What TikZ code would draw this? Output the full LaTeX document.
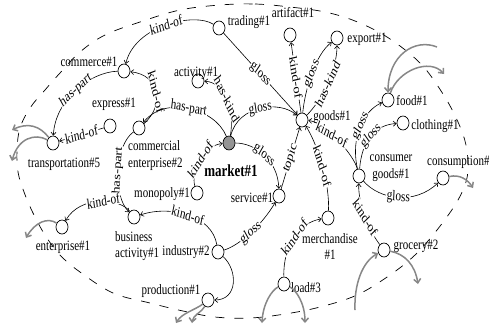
\documentclass[tikz,border=0pt]{standalone}
\usepackage{fontspec}
\setmainfont{Liberation Serif}
\usetikzlibrary{arrows.meta,shapes.geometric}
\begin{document}
\begin{tikzpicture}[x=1pt,y=-1pt,
  cpt/.style={draw, ellipse, minimum width=12pt, minimum height=14pt, inner sep=0pt, line width=0.7pt, fill=white},
  mk/.style={cpt, fill=black!42},
  nm/.style={font=\fontsize{11}{12.7}\selectfont, inner sep=0pt, yscale=1.3},
  rel/.style={draw, line width=0.6pt, -{Straight Barb[length=3pt,width=5pt]}},
  el/.style={font=\fontsize{11.3}{12}\selectfont, fill=white, inner sep=0.6pt, yscale=1.3},
  ext/.style={draw={rgb,255:red,135;green,135;blue,135}, line width=1.5pt, -{Straight Barb[length=4pt,width=7pt]}},
  bound/.style={draw, line width=0.7pt, dash pattern=on 9pt off 10pt}
]
\useasboundingbox (0,0) rectangle (489,325);
\draw[bound] plot[smooth cycle, tension=0.6] coordinates {
 (220,5) (255,4) (290,7) (325,12) (355,21) (387,37) (420,63) (443,94) (458,122)
 (466,145) (468,168) (465,185) (455,205) (437,230) (415,255) (390,275) (357,295)
 (320,307) (285,314) (250,318) (215,317) (183,311) (150,303) (113,293) (80,272)
 (60,255) (45,235) (33,213) (24,192) (18,172) (17,150) (20,128) (30,108) (45,90)
 (60,73) (80,52) (105,35) (140,22) (180,10)};

% concept nodes
\node[cpt] (trading) at (219,28) {};
\node[cpt] (artifact) at (290,35) {};
\node[cpt] (export) at (337,38) {};
\node[cpt] (commerce) at (124,71) {};
\node[cpt] (activity) at (198,81) {};
\node[cpt] (express) at (110,126) {};
\node[cpt] (transport) at (53,143) {};
\node[cpt] (ce) at (139,128) {};
\node[mk] (market) at (229,143) {};
\node[cpt] (goods) at (302,120) {};
\node[cpt] (service) at (279,196) {};
\node[cpt] (monopoly) at (197,193) {};
\node[cpt] (ba) at (134,217) {};
\node[cpt] (enterprise) at (62,227) {};
\node[cpt] (industry) at (218,252) {};
\node[cpt] (production) at (208,300) {};
\node[cpt] (merch) at (328,218) {};
\node[cpt] (load) at (284,284) {};
\node[cpt] (grocery) at (384,250) {};
\node[cpt] (cg) at (359,176) {};
\node[cpt] (consumption) at (443,178) {};
\node[cpt] (food) at (388,100) {};
\node[cpt] (clothing) at (403,123) {};

% concept names
\node[nm] (t-trading) at (249,22) {trading\#1};
\node[nm] (t-artifact) at (293,13) {artifact\#1};
\node[nm] (t-export) at (367,39) {export\#1};
\node[nm] (t-commerce) at (89,62) {commerce\#1};
\node[nm] (t-activity) at (196,73) {activity\#1};
\node[nm] (t-express) at (114,104) {express\#1};
\node[nm] (t-transport) at (64,164) {transportation\#5};
\node[nm, align=left, anchor=west] (t-ce) at (128,155.5) {commercial\\enterprise\#2};
\node[nm, font=\fontsize{13}{14}\selectfont\bfseries] (t-market) at (231,171) {market\#1};
\node[nm] (t-goods) at (332,117) {goods\#1};
\node[nm] (t-service) at (252,198) {service\#1};
\node[nm] (t-monopoly) at (162,194) {monopoly\#1};
\node[nm, align=left, anchor=west] (t-ba) at (115,246) {business\\activity\#1};
\node[nm] (t-enterprise) at (63,247) {enterprise\#1};
\node[nm] (t-industry) at (186,252) {industry\#2};
\node[nm] (t-production) at (171,291) {production\#1};
\node[nm, align=center] (t-merch) at (330,246.5) {merchandise\\\#1};
\node[nm] (t-load) at (306,288) {load\#3};
\node[nm] (t-grocery) at (416,246) {grocery\#2};
\node[nm, align=center] (t-cg) at (391,168) {consumer\\goods\#1};
\node[nm, anchor=west] (t-consumption) at (427,162) {consumption\#};
\node[nm] (t-food) at (412,101) {food\#1};
\node[nm] (t-clothing) at (435,126) {clothing\#1};

% relations
\path[rel] (trading) .. controls (195,12) and (135,25) .. node[el, rotate=15.5] {kind-of} (commerce);
\path[rel] (trading) -- node[el, rotate=-40.5] {gloss} (goods);
\path[rel] (commerce) .. controls (90,72) and (55,100) .. node[el, rotate=36] {has-part} (transport);
\path[rel] (ce) .. controls (165,105) and (160,75) .. node[el, rotate=-73.4] {kind-of} (commerce);
\path[rel] (market) .. controls (215,108) and (165,95) .. node[el, rotate=-8.7] {has-part} (ce);
\path[rel] (express) -- node[el, rotate=12.9] {kind-of} (transport);
\path[rel] (market) .. controls (235,110) and (225,82) .. node[el, rotate=-59.4] {has-kind} (activity);
\path[rel] (market) .. controls (238,105) and (280,100) .. node[el, rotate=10.6] {gloss} (goods);
\path[rel] (market) .. controls (255,143) and (278,160) .. node[el, rotate=-36.4] {gloss} (service);
\path[rel] (monopoly) .. controls (190,170) and (205,145) .. node[el, rotate=50.8] {kind-of} (market);
\path[rel] (ce) .. controls (115,145) and (112,195) .. node[el, rotate=85.7] {has-part} (ba);
\path[rel] (industry) .. controls (212,215) and (170,205) .. node[el, rotate=-15.4] {kind-of} (ba);
\path[rel] (ba) .. controls (120,198) and (80,195) .. node[el, pos=0.45, rotate=9.3] {kind-of} (enterprise);
\path[rel] (industry) .. controls (240,245) and (262,225) .. node[el, rotate=35.2] {gloss} (service);
\path[rel] (industry) .. controls (238,270) and (238,300) .. (production);
\path[rel] (service) -- node[el, rotate=68.5] {topic} (goods);
\path[rel] (merch) .. controls (330,185) and (318,145) .. node[el, rotate=-70.3] {kind-of} (goods);
\path[rel] (load) .. controls (283,245) and (300,222) .. node[el, rotate=48.3] {kind-of} (merch);
\path[rel] (goods) -- node[el, rotate=-79.6] {kind-of} (artifact);
\path[rel] (goods) .. controls (305,90) and (315,55) .. node[el, rotate=63.4] {gloss} (export);
\path[rel] (goods) .. controls (322,100) and (337,70) .. node[el, rotate=59.9] {has-kind} (export);
\path[rel] (cg) .. controls (354,155) and (325,122) .. node[el, pos=0.6, rotate=-26.5] {kind-of} (goods);
\path[rel] (cg) .. controls (350,135) and (365,110) .. node[el, rotate=60.5] {gloss} (food);
\path[rel] (cg) .. controls (362,140) and (375,125) .. node[el, rotate=42.5] {gloss} (clothing);
\path[rel] (cg) .. controls (380,200) and (415,205) .. node[el, rotate=-3.8] {gloss} (consumption);
\path[rel] (grocery) .. controls (370,232) and (358,205) .. node[el, rotate=-53.1] {kind-of} (cg);

% links leaving the region
\coordinate (x1) at (12,130);
\coordinate (x2) at (12,161);
\coordinate (x3) at (26,238);
\coordinate (x4) at (176,323);
\coordinate (x5) at (192,323);
\coordinate (x6) at (262,323);
\coordinate (x7) at (305,323);
\coordinate (x8) at (355,310);
\coordinate (x9) at (418,284);
\coordinate (x10) at (473,188);
\coordinate (x11) at (437,47);
\coordinate (x12) at (444,74);
\path[ext] (transport) .. controls (40,126) and (28,122) .. (x1);
\path[ext] (transport) .. controls (35,133) and (18,138) .. (x2);
\path[ext] (enterprise) .. controls (48,217) and (35,222) .. (x3);
\path[ext] (production) .. controls (195,310) and (182,313) .. (x4);
\path[ext] (production) .. controls (202,312) and (193,315) .. (x5);
\path[ext] (load) .. controls (272,290) and (263,303) .. (x6);
\path[ext] (load) .. controls (296,290) and (305,303) .. (x7);
\path[ext] (x8) .. controls (354,285) and (362,262) .. (grocery);
\path[ext] (grocery) .. controls (405,254) and (415,265) .. (x9);
\path[ext] (consumption) .. controls (460,174) and (468,180) .. (x10);
\path[ext] (x11) .. controls (415,38) and (388,55) .. (food);
\path[ext] (food) .. controls (398,70) and (430,58) .. (x12);
\end{tikzpicture}
\end{document}
